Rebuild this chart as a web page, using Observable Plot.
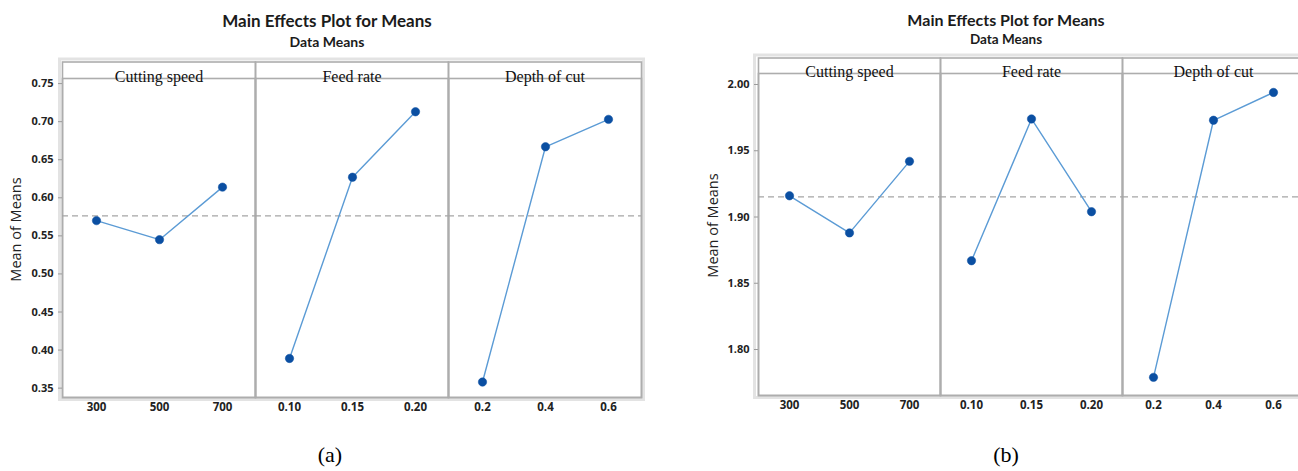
<!DOCTYPE html>
<html>
<head>
<meta charset="utf-8">
<script src="https://cdn.jsdelivr.net/npm/d3@7"></script>
<script src="https://cdn.jsdelivr.net/npm/@observablehq/plot@0.6"></script>
<style>
  html, body { margin: 0; padding: 0; background: #fff; width: 1298px; height: 471px; overflow: hidden; }
  body { position: relative; }
  .ttl { position: absolute; text-align: center; font-family: Lato, "Open Sans", sans-serif; font-weight: 700; color: #1b1b1b; white-space: nowrap; }
  .chart { position: absolute; }
  .chart svg { max-width: none !important; }
  .cap { position: absolute; width: 60px; text-align: center; font-family: "Liberation Serif", "Times New Roman", serif; font-size: 22px; line-height: 26px; color: #000; }
</style>
</head>
<body>
<div class="ttl" style="left:0; width:654px; top:12px; font-size:17px; line-height:17px;">Main Effects Plot for Means</div>
<div class="ttl" style="left:0; width:654px; top:35px; font-size:14px; line-height:14px;">Data Means</div>
<div class="ttl" style="left:660px; width:692px; top:12px; font-size:16px; line-height:16px;">Main Effects Plot for Means</div>
<div class="ttl" style="left:660px; width:692px; top:33px; font-size:13.5px; line-height:13.5px;">Data Means</div>
<div class="chart" id="chartA" style="left:0; top:50px; width:650px;"></div>
<div class="chart" id="chartB" style="left:650px; top:45px; width:665px;"></div>
<div class="cap" style="left:300px; top:442px;">(a)</div>
<div class="cap" style="left:976px; top:442px;">(b)</div>
<script>
// Factors and their levels
const factors = ["Cutting speed", "Feed rate", "Depth of cut"];
const levelLabels = [
  ["300", "500", "700"],
  ["0.10", "0.15", "0.20"],
  ["0.2", "0.4", "0.6"]
];

// Mean of means at each level, response (a)
const meansA = [
  [0.570, 0.545, 0.614],
  [0.389, 0.627, 0.713],
  [0.358, 0.667, 0.703]
];
// Mean of means at each level, response (b)
const meansB = [
  [1.916, 1.888, 1.942],
  [1.867, 1.974, 1.904],
  [1.779, 1.973, 1.994]
];

// Y-axis ticks
const ticksA = [0.35, 0.40, 0.45, 0.50, 0.55, 0.60, 0.65, 0.70, 0.75];
const ticksB = [1.80, 1.85, 1.90, 1.95, 2.00];

function mainEffects(means, ticks, opts) {
  const {domain, width, height, marginLeft, marginRight, marginTop, marginBottom, strip, xPad, labelDx, labelDy} = opts;
  const rows = factors.flatMap((f, i) =>
    levelLabels[i].map((lab, j) => ({factor: f, idx: j, level: lab, mean: means[i][j]}))
  );
  const grand = d3.mean(rows, d => d.mean);

  const svg = Plot.plot({
    width, height, marginLeft, marginRight, marginTop, marginBottom,
    style: {background: "transparent", overflow: "visible", maxWidth: "none", fontFamily: "'Open Sans', sans-serif", fontSize: "11px", fontWeight: 700, color: "#222"},
    fx: {domain: factors, padding: 0, axis: null},
    x: {type: "point", domain: [0, 1, 2], padding: xPad, axis: null},
    y: {domain},
    marks: [
      // strip box above each panel, then the panel frame
      Plot.frame({stroke: "#adadad", strokeWidth: 1.6, insetTop: -strip}),
      Plot.frame({stroke: "#adadad", strokeWidth: 1.6}),
      // overall mean reference
      Plot.ruleY([grand], {stroke: "#a5a5a5", strokeWidth: 1.3, strokeDasharray: "6,4"}),
      Plot.line(rows, {fx: "factor", x: "idx", y: "mean", stroke: "#5b9bd5", strokeWidth: 1.4}),
      Plot.dot(rows, {fx: "factor", x: "idx", y: "mean", r: 4.2, fill: "#0b4fa2", stroke: "#0b4fa2", strokeWidth: 0.5}),
      // strip labels
      Plot.text(factors, {fx: d => d, text: d => d, frameAnchor: "top", dy: -strip / 2, fontFamily: "'Liberation Serif', serif", fontSize: 16, fontWeight: 400, fill: "#111"}),
      // level labels under each panel
      Plot.text(rows, {fx: "factor", x: "idx", text: "level", frameAnchor: "bottom", dy: 13, fontSize: 11.5, fill: "#222"}),
      Plot.axisY({ticks, tickFormat: d3.format(".2f"), tickSize: 4, tickPadding: 5, label: null, stroke: "#9a9a9a", fill: "#222"}),
      Plot.text(["Mean of Means"], {fx: () => factors[0], frameAnchor: "left", textAnchor: "middle", rotate: -90, dx: labelDx, dy: labelDy, fontSize: 14.5, fontWeight: 400, fill: "#222"})
    ]
  });

  // light outer border around the whole panel block
  const plotW = width - marginLeft - marginRight;
  const top = marginTop - strip;
  d3.select(svg).insert("rect", ":first-child")
    .attr("x", marginLeft - 2.5).attr("y", top - 2.5)
    .attr("width", plotW + 5).attr("height", height - marginBottom - top + 5)
    .attr("fill", "none").attr("stroke", "#e3e3e3").attr("stroke-width", 3);
  return svg;
}

document.getElementById("chartA").append(mainEffects(meansA, ticksA, {
  domain: [0.3377, 0.7567], width: 650, height: 377,
  marginLeft: 62, marginRight: 9, marginTop: 28, marginBottom: 30,
  strip: 16.5, xPad: 0.52, labelDx: -46, labelDy: -8.5
}));

document.getElementById("chartB").append(mainEffects(meansB, ticksB, {
  domain: [1.7653, 2.0083], width: 665, height: 380,
  marginLeft: 107, marginRight: 10, marginTop: 28, marginBottom: 30,
  strip: 15.5, xPad: 0.51, labelDx: -45, labelDy: -9
}));
</script>
</body>
</html>
